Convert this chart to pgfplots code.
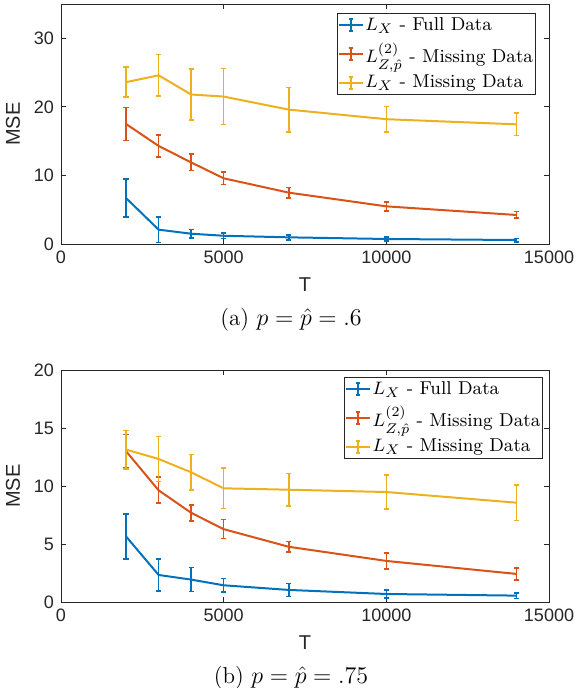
\documentclass[border=0pt]{standalone}
\usepackage{fontspec}
\usepackage{pgfplots}
\usepackage{pgfplotstable}
\pgfplotsset{compat=1.18}
\newfontfamily\helv{Liberation Sans}
\definecolor{mBlue}{rgb}{0,0.447,0.741}
\definecolor{mOrange}{rgb}{0.850,0.325,0.098}
\definecolor{mYellow}{rgb}{0.929,0.694,0.125}
\definecolor{axGray}{rgb}{0.15,0.15,0.15}

% (a) p = .6 : mean and half error for each estimator
\pgfplotstableread{
x     b     be    r     re    y     ye
2000  6.70  2.80  17.50 2.40  23.60 2.20
3000  2.09  1.85  14.30 1.60  24.60 3.05
4000  1.50  0.63  11.90 1.20  21.80 3.70
5000  1.20  0.40  9.58  0.88  21.50 4.10
7000  0.97  0.35  7.49  0.75  19.60 3.25
10000 0.73  0.30  5.49  0.65  18.20 1.85
14000 0.58  0.25  4.23  0.48  17.45 1.63
}\tabA
% (b) p = .75
\pgfplotstableread{
x     b     be    r     re    y     ye
2000  5.65  1.96  13.00 1.45  13.14 1.65
3000  2.33  1.36  9.63  1.12  12.33 1.95
4000  1.93  1.04  7.69  0.69  11.18 1.55
5000  1.44  0.58  6.28  0.82  9.80  1.75
7000  1.04  0.56  4.76  0.46  9.68  1.40
10000 0.69  0.35  3.54  0.67  9.48  1.47
14000 0.55  0.25  2.42  0.52  8.56  1.55
}\tabB

\pgfplotsset{
  mlab/.style={
    scale only axis, width=244pt,
    xmin=0, xmax=15000, xtick={0,5000,10000,15000},
    scaled x ticks=false, scaled y ticks=false,
    axis line style={axGray, line width=0.4pt},
    tick style={axGray, line width=0.4pt},
    major tick length=2.5pt, tick align=inside, tick pos=both,
    ticklabel style={font=\helv\fontsize{9}{10}\selectfont, text=axGray},
    /pgf/number format/assume math mode=true,
    /pgf/number format/1000 sep={},
    xlabel={T}, ylabel={MSE},
    label style={font=\helv\fontsize{10}{12}\selectfont, text=axGray},
    legend cell align=left,
    legend style={font=\fontsize{9.3}{11}\selectfont, draw=axGray,
      line width=0.4pt, inner xsep=0.5pt, inner ysep=1.5pt, row sep=3.6pt,
      nodes={inner xsep=0.7pt, inner ysep=0.5pt}},
    legend image code/.code={
      \draw[#1] (0pt,0pt) -- (12pt,0pt);
      \draw[#1] (6pt,-3pt) -- (6pt,3pt);
      \draw[#1] (5pt,-3pt) -- (7pt,-3pt);
      \draw[#1] (5pt,3pt) -- (7pt,3pt);
    },
  },
  ebar/.style={line width=1pt, mark=none,
    error bars/.cd, y dir=both, y explicit,
    error bar style={line width=0.8pt},
    error mark options={rotate=90, mark size=1.3pt, line width=0.8pt}},
}

\begin{document}
\begin{tikzpicture}
\path[use as bounding box] (-30.5pt,-222pt) rectangle (260.5pt,122pt);

\begin{axis}[mlab, name=top, height=120pt,
    ymin=0, ymax=35, ytick={0,10,20,30},
    legend style={at={(0.973,0.9625)}, anchor=north east}]
  \addplot[mBlue, ebar] table[x=x, y=b, y error=be] {\tabA};
  \addlegendentry{$L_X$ - Full Data}
  \addplot[mOrange, ebar] table[x=x, y=r, y error=re] {\tabA};
  \addlegendentry{$L^{(2)}_{Z,\hat{p}}$ - Missing Data}
  \addplot[mYellow, ebar] table[x=x, y=y, y error=ye] {\tabA};
  \addlegendentry{$L_X$ - Missing Data}
\end{axis}
\node[font=\fontsize{11.5}{13}\selectfont] at (115pt,-38pt) {(a) $p=\hat{p}=.6$};

\begin{axis}[mlab, name=bot, height=116pt, at={(0pt,-63pt)}, anchor=north west,
    ymin=0, ymax=20, ytick={0,5,10,15,20},
    legend style={at={(0.988,0.97)}, anchor=north east}]
  \addplot[mBlue, ebar] table[x=x, y=b, y error=be] {\tabB};
  \addlegendentry{$L_X$ - Full Data}
  \addplot[mOrange, ebar] table[x=x, y=r, y error=re] {\tabB};
  \addlegendentry{$L^{(2)}_{Z,\hat{p}}$ - Missing Data}
  \addplot[mYellow, ebar] table[x=x, y=y, y error=ye] {\tabB};
  \addlegendentry{$L_X$ - Missing Data}
\end{axis}
\node[font=\fontsize{11.5}{13}\selectfont] at (115pt,-217pt) {(b) $p=\hat{p}=.75$};
\end{tikzpicture}
\end{document}
